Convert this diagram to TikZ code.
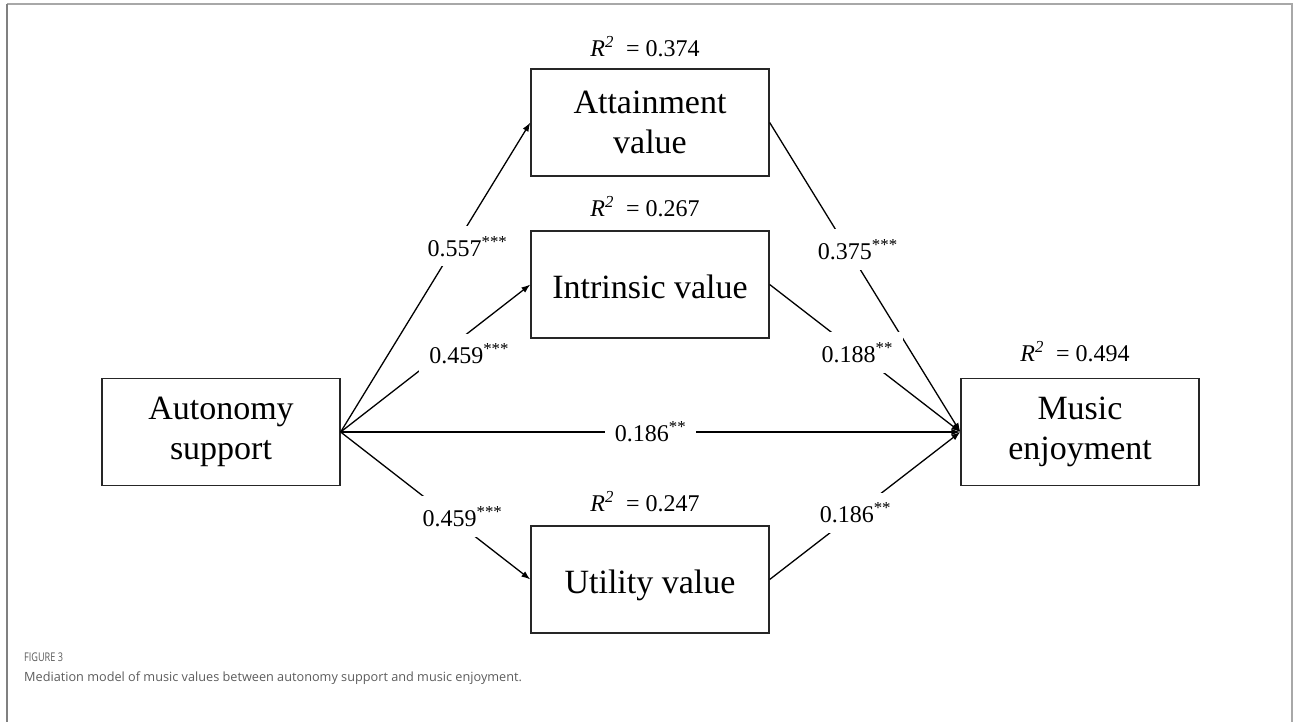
\documentclass[tikz,border=0pt]{standalone}
\usepackage{fontspec}
\setmainfont{Liberation Serif}
\newfontfamily\leyenda{Open Sans}
\newfontfamily\leyendaestrecha[FakeStretch=0.76]{Open Sans}
\usetikzlibrary{arrows.meta,positioning}
\definecolor{marcoclaro}{HTML}{A8A8A8}
\definecolor{marcooscuro}{HTML}{808080}
\definecolor{textogris}{HTML}{5C5C5C}

\tikzset{
  caja/.style={draw=black!85, line width=1.3pt, minimum width=238pt,
    minimum height=107pt, inner sep=0pt, align=center,
    font=\fontsize{34}{40}\selectfont},
  cajauna/.style={caja, text height=30pt, text depth=3pt},
  coef/.style={fill=white, inner sep=10pt, font=\fontsize{24}{28}\selectfont},
  rdos/.style={inner sep=0pt, anchor=base, font=\fontsize{24}{28}\selectfont},
  flecha/.style={line width=1.3pt, -{Latex[length=9pt,width=6.5pt]}},
}

\begin{document}
\begin{tikzpicture}
    \useasboundingbox (0,0) rectangle (1293pt,-722pt);

    \begin{scope}[x=1pt, y=-1pt]
      % Marco de la figura
      \draw[marcoclaro, line width=2pt] (7,4) -- (1292,4) -- (1292,722);
      \draw[marcooscuro, line width=2pt] (7,722) -- (7,4);

      % Cajas de las variables
      \node[caja] (auto) at (221,432) {Autonomy\\support};
      \node[caja] (att) at (650,122.5) {Attainment\\value};
      \node[cajauna] (intr) at (650,284.5) {Intrinsic value};
      \node[cajauna] (util) at (650,579.5) {Utility value};
      \node[caja] (music) at (1080,432) {Music\\enjoyment};

      % Varianza explicada
      \node[rdos] (att-r2) at ([xshift=-5pt, yshift=12pt]att.north)
        {\textit{R\textsuperscript{2}}\ \ = 0.374};
      \node[rdos] (intr-r2) at ([xshift=-5pt, yshift=14pt]intr.north)
        {\textit{R\textsuperscript{2}}\ \ = 0.267};
      \node[rdos] (util-r2) at ([xshift=-5pt, yshift=14pt]util.north)
        {\textit{R\textsuperscript{2}}\ \ = 0.247};
      \node[rdos] (music-r2) at ([xshift=-5pt, yshift=16pt]music.north)
        {\textit{R\textsuperscript{2}}\ \ = 0.494};

      % Caminos desde el apoyo a la autonomia
      \draw[flecha] (auto.east) -- node[coef, pos=0.6, xshift=13pt]
        {0.557\textsuperscript{***}} (att.west);
      \draw[flecha] (auto.east) -- node[coef, pos=0.53, xshift=28pt]
        {0.459\textsuperscript{***}} (intr.west);
      \draw[flecha] (auto.east) -- node[coef, pos=0.574, xshift=13pt]
        {0.459\textsuperscript{***}} (util.west);
      \draw[flecha] (auto.east) -- node[coef, pos=0.5]
        {0.186\textsuperscript{**}} (music.west);

      % Caminos hacia el disfrute musical
      \draw[flecha] (att.east) -- node[coef, pos=0.41, xshift=10pt]
        {0.375\textsuperscript{***}} (music.west);
      \draw[flecha] (intr.east) -- node[coef, pos=0.46]
        {0.188\textsuperscript{**}} (music.west);
      \draw[flecha] (util.east) -- node[coef, pos=0.45]
        {0.186\textsuperscript{**}} (music.west);

      % Pie de figura
      \node[anchor=base west, inner sep=0pt, text=textogris,
        font=\leyendaestrecha\fontsize{12}{14}\selectfont] (fig) at (24,661) {FIGURE 3};
      \node[anchor=base west, inner sep=0pt, text=textogris,
        font=\leyenda\fontsize{12.7}{15}\selectfont] (pie) at (24,681)
        {Mediation model of music values between autonomy support and music enjoyment.};
    \end{scope}
\end{tikzpicture}
\end{document}
